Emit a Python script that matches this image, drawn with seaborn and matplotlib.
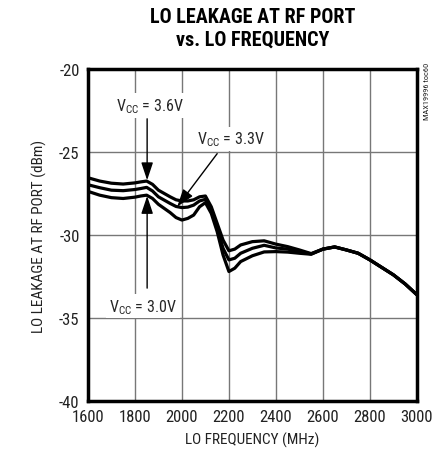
import matplotlib
matplotlib.use("Agg")
import matplotlib.pyplot as plt
from matplotlib import font_manager
import numpy as np
import pandas as pd
import seaborn as sns

# LO frequency sweep (MHz)
freq = [1600, 1650, 1700, 1750, 1800, 1825, 1850, 1875, 1900, 1925, 1950, 1975, 2000,
        2025, 2050, 2075, 2100, 2125, 2150, 2175, 2200, 2225, 2250, 2300, 2350, 2400,
        2450, 2500, 2550, 2600, 2650, 2700, 2750, 2800, 2850, 2900, 2950, 3000]

# LO leakage at RF port (dBm) per supply voltage
leak_36 = [-26.55, -26.75, -26.88, -26.93, -26.86, -26.8, -26.75, -26.95, -27.3, -27.5, -27.7,
           -27.88, -27.95, -27.95, -27.88, -27.7, -27.65, -28.3, -29.3, -30.3, -30.95, -30.85,
           -30.6, -30.4, -30.35, -30.55, -30.7, -30.9, -31.12, -30.85, -30.72, -30.9, -31.1,
           -31.5, -31.95, -32.4, -32.95, -33.6]
leak_33 = [-26.97, -27.15, -27.3, -27.33, -27.26, -27.2, -27.13, -27.35, -27.7, -27.9, -28.1,
           -28.28, -28.35, -28.32, -28.2, -27.95, -27.85, -28.5, -29.6, -30.8, -31.5, -31.4,
           -31.1, -30.8, -30.62, -30.78, -30.85, -31.0, -31.14, -30.85, -30.72, -30.9, -31.1,
           -31.5, -31.95, -32.4, -32.95, -33.6]
leak_30 = [-27.37, -27.6, -27.75, -27.8, -27.72, -27.65, -27.6, -27.8, -28.15, -28.4, -28.65,
           -28.95, -29.1, -29.0, -28.8, -28.3, -28.05, -28.7, -29.8, -31.2, -32.2, -32.0,
           -31.6, -31.25, -31.02, -31.0, -31.03, -31.1, -31.16, -30.85, -30.72, -30.9, -31.1,
           -31.5, -31.95, -32.4, -32.95, -33.6]

vcc_labels = ["3.6V", "3.3V", "3.0V"]
x_ticks = [1600, 1800, 2000, 2200, 2400, 2600, 2800, 3000]
y_ticks = [-40, -35, -30, -25, -20]

df = pd.concat([
    pd.DataFrame({"freq": freq, "leak": vals, "vcc": lab})
    for vals, lab in zip([leak_36, leak_33, leak_30], vcc_labels)
])

# prefer a condensed sans face when one is installed
installed = {f.name for f in font_manager.fontManager.ttflist}
narrow = [n for n in ["Liberation Sans Narrow", "Roboto Condensed", "Noto Sans Condensed",
                      "Open Sans Condensed", "Arial Narrow", "DejaVu Sans Condensed"]
          if n in installed]
have_narrow = bool(narrow)

sns.set_theme(style="white")
plt.rcParams["font.family"] = narrow + ["Liberation Sans", "DejaVu Sans"]
plt.rcParams["axes.unicode_minus"] = False

k = 1.0 if have_narrow else 0.85  # shrink wide faces to keep text widths

fig = plt.figure(figsize=(4.44, 4.56), dpi=100)
ax = fig.add_axes([0.198, 0.1184, 0.741, 0.7281])

sns.lineplot(data=df, x="freq", y="leak", hue="vcc", units="vcc", estimator=None,
             palette=["black"] * 3, linewidth=2.3, legend=False, ax=ax, zorder=3)

ax.set_xlim(1600, 3000)
ax.set_ylim(-40, -20)
ax.set_xticks(x_ticks)
ax.set_yticks(y_ticks)
ax.grid(True, color="#777777", linewidth=1.0)
ax.set_axisbelow(True)
for s in ax.spines.values():
    s.set_color("black")
    s.set_linewidth(2.5)
ax.tick_params(axis="both", length=0, labelsize=12 * k, colors="#222222", pad=6)

ax.set_xlabel("LO FREQUENCY (MHz)", fontsize=11 * k, color="#222222", labelpad=5)
ax.set_ylabel("LO LEAKAGE AT RF PORT (dBm)", fontsize=11 * k, color="#222222", labelpad=9)

fig.text(0.568, 0.982, "LO LEAKAGE AT RF PORT\nvs. LO FREQUENCY", ha="center", va="top",
         fontsize=14.5 * k, fontweight="bold", linespacing=1.22, color="black")

fig.text(0.962, 0.862, "MAX19996 toc60", rotation=90, ha="center", va="top",
         fontsize=6, color="#222222")

box = dict(facecolor="white", edgecolor="none", pad=2)
arrow = dict(arrowstyle="-|>,head_length=0.9,head_width=0.3", color="black",
             linewidth=1.0, shrinkA=0, shrinkB=0)
lab_fs = 11.5 * k

ax.text(1864, -22.2, r"V$_\mathregular{CC}$ = 3.6V", ha="center", va="center",
        fontsize=lab_fs, bbox=box, zorder=4)
ax.annotate("", xy=(1852, -26.7), xytext=(1852, -23.0), arrowprops=arrow, zorder=4)

ax.text(2210, -24.2, r"V$_\mathregular{CC}$ = 3.3V", ha="center", va="center",
        fontsize=lab_fs, bbox=box, zorder=4)
ax.annotate("", xy=(1980, -28.3), xytext=(2150, -25.1), arrowprops=arrow, zorder=4)

ax.text(1834, -34.3, r"V$_\mathregular{CC}$ = 3.0V", ha="center", va="center",
        fontsize=lab_fs, bbox=box, zorder=4)
ax.annotate("", xy=(1852, -27.65), xytext=(1852, -33.2), arrowprops=arrow, zorder=4)

fig.savefig("out.png", dpi=100)
